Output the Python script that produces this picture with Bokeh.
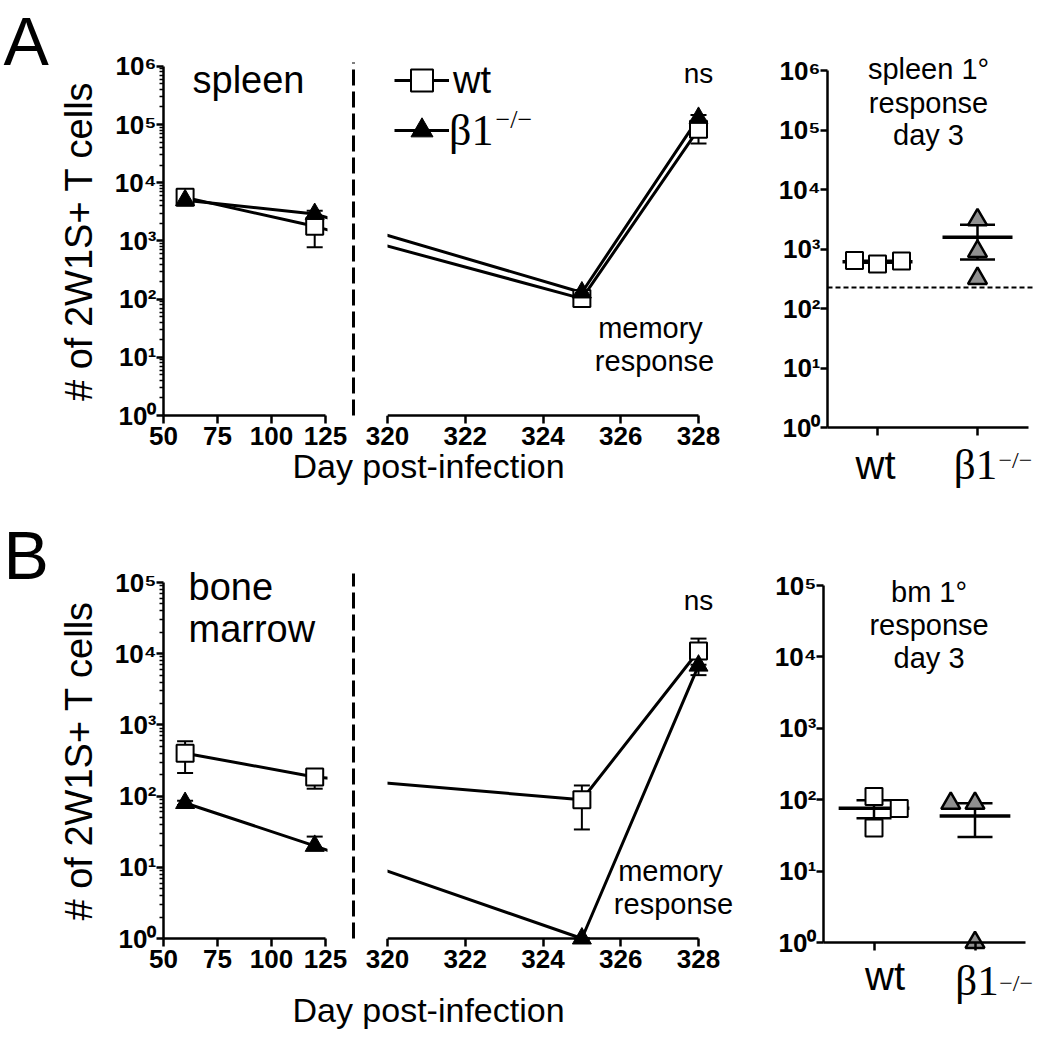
from bokeh.plotting import figure
from bokeh.models import (Range1d, LinearAxis, LogAxis, LogScale, FixedTicker, CustomJSTickFormatter,
                          BoxAnnotation, Label, Legend, LegendItem, Whisker, TeeHead, Arrow,
                          ColumnDataSource)
from bokeh.embed import file_html
from bokeh.resources import INLINE

# ---------------- data ----------------
DAYS = [60, 120, 325, 328]
TICKS_EARLY = [50, 75, 100, 125]
TICKS_LATE = [320, 322, 324, 326, 328]

# A: spleen time course (mean, lower, upper)
SPL_WT = [5600, 1780, 102, 83000]
SPL_WT_LO = [5000, 780, 92, 47000]
SPL_WT_HI = [6200, 2500, 112, 100000]
SPL_B1 = [5000, 2900, 130, 130000]
SPL_B1_LO = [4500, 2500, 118, 115000]
SPL_B1_HI = [5500, 3300, 142, 145000]

# B: bone marrow time course
BM_WT = [400, 186, 89, 10900]
BM_WT_LO = [211, 127, 34, 7000]
BM_WT_HI = [590, 240, 141, 16300]
BM_B1 = [80, 20, 1, 6800]
BM_B1_LO = [75, 18, 1, 5000]
BM_B1_HI = [86, 27, 1, 8500]

# primary response day 3 (individual mice, group mean and SEM)
GROUP_POS = [1, 2]
SPL1_WT = [640, 560, 630]
SPL1_WT_DX = [-0.23, 0.0, 0.24]
SPL1_B1 = [3100, 910, 320]
SPL1_B1_DX = [0.0, 0.0, 0.0]
SPL1_MEAN = [610, 1580]
SPL1_LO = [585, 665]
SPL1_HI = [635, 2560]
SPL1_LOD = 225

BM1_WT = [111, 75, 40]
BM1_WT_DX = [0.0, 0.25, 0.0]
BM1_B1 = [89, 89, 1]
BM1_B1_DX = [-0.24, 0.0, 0.0]
BM1_MEAN = [76, 59]
BM1_LO = [55, 30]
BM1_HI = [98, 89]

SANS = "Liberation Sans"
SERIF = "Liberation Serif"

# ---------------- one canvas, several panel scales ----------------
W, H = 1042, 1040
X0, Y0 = 0, 0


def lin_range(page_x, value, px_per_unit):
    return Range1d(value + (X0 - page_x) / px_per_unit, value + (X0 + W - page_x) / px_per_unit)


def log_range(page_y_of_one, px_per_decade):
    hi = (page_y_of_one - Y0) / px_per_decade
    lo = (page_y_of_one - (Y0 + H)) / px_per_decade
    return Range1d(10 ** lo, 10 ** hi)


# broken x axis: days -> axis units (early block 50..125, late block 320..328)
def brk(d):
    return (d - 50) * 2.16 if d < 200 else 224 + (d - 320) * 38.875


DAYFMT = """
const d = tick < 190 ? 50 + tick / 2.16 : 320 + (tick - 224) / 38.875;
return Math.round(d).toString();
"""
SUPCODE = """
const s = "\u2070\u00b9\u00b2\u00b3\u2074\u2075\u2076\u2077\u2078\u2079";
const e = Math.round(Math.log10(tick));
return "10" + (e < 0 ? "\u207b" : "") + s[Math.abs(e)];
"""

p = figure(width=W, height=H, x_range=lin_range(163, 0, 1), y_range=Range1d(0, 1),
           x_axis_type=None, y_axis_type=None, toolbar_location=None, output_backend="svg",
           min_border_left=0, min_border_right=0, min_border_top=0, min_border_bottom=0)
p.outline_line_color = None
p.grid.visible = False
p.extra_x_ranges = {"ra": lin_range(877, 1, 100), "rb": lin_range(873.5, 1, 101)}
p.extra_y_ranges = {"ya": log_range(415, 58.2), "yb": log_range(938, 71.2),
                    "ra": log_range(427, 59.5), "rb": log_range(942, 71.4)}
p.extra_y_scales = {k: LogScale() for k in ("ya", "yb", "ra", "rb")}


def decade_ticks(n):
    major = [10 ** k for k in range(n + 1)]
    minor = [m * 10 ** k for k in range(n) for m in range(2, 10)]
    return major, minor


def add_yaxis(xname, yname, loc, ndec, minor, label=None):
    major, minor_t = decade_ticks(ndec)
    ax = LogAxis(x_range_name=xname, y_range_name=yname, fixed_location=loc, bounds=(1, 10 ** ndec),
                 ticker=FixedTicker(ticks=major, minor_ticks=minor_t if minor else []),
                 formatter=CustomJSTickFormatter(code=SUPCODE))
    ax.axis_line_width = 2.5
    ax.major_tick_line_width = 2.5
    ax.major_tick_out = 7
    ax.major_tick_in = 0
    ax.minor_tick_line_width = 1.5
    ax.minor_tick_out = 4
    ax.minor_tick_in = 0
    ax.major_label_text_font = SANS
    ax.major_label_text_font_style = "bold"
    ax.major_label_text_font_size = "26px"
    ax.major_label_text_color = "black"
    ax.major_label_standoff = 0
    if label:
        ax.axis_label = label
        ax.axis_label_text_font = SANS
        ax.axis_label_text_font_style = "normal"
        ax.axis_label_text_font_size = "38px"
        ax.axis_label_text_color = "black"
        ax.axis_label_standoff = 12
    p.add_layout(ax, "left")


def add_xaxis(xname, yname, bounds, ticks, fmt):
    ax = LinearAxis(x_range_name=xname, y_range_name=yname, fixed_location=1, bounds=bounds,
                    ticker=FixedTicker(ticks=ticks, minor_ticks=[]),
                    formatter=CustomJSTickFormatter(code=fmt))
    ax.axis_line_width = 2.5
    ax.major_tick_line_width = 2.5
    ax.major_tick_out = 8
    ax.major_tick_in = 0
    ax.major_label_text_font = SANS
    ax.major_label_text_font_style = "bold"
    ax.major_label_text_font_size = "26px"
    ax.major_label_text_color = "black"
    ax.major_label_standoff = 3
    p.add_layout(ax, "below")


def txt(x, y, s, size, xname="default", yname="ya", align="left", font=SANS):
    p.add_layout(Label(x=x, y=y, x_range_name=xname, y_range_name=yname, text=s, text_font=font,
                       text_font_size=size, text_align=align, text_baseline="middle",
                       text_color="black"))


def errbars(xname, yname, x, lo, hi, cap, lw=2):
    src = ColumnDataSource(dict(x=x, lo=lo, hi=hi))
    p.add_layout(Whisker(source=src, base="x", lower="lo", upper="hi", dimension="height",
                         x_range_name=xname, y_range_name=yname, level="underlay",
                         line_width=lw, line_color="black",
                         lower_head=TeeHead(size=cap, line_width=lw, line_color="black"),
                         upper_head=TeeHead(size=cap, line_width=lw, line_color="black")))


def timecourse(yname, ndec, top_log, wt, wt_lo, wt_hi, b1, b1_lo, b1_hi):
    add_yaxis("default", yname, brk(50), ndec, True, "# of 2W1S+ T cells")
    add_xaxis("default", yname, (brk(TICKS_EARLY[0]), brk(TICKS_EARLY[-1])),
              [brk(d) for d in TICKS_EARLY], DAYFMT)
    add_xaxis("default", yname, (brk(TICKS_LATE[0]), brk(TICKS_LATE[-1])),
              [brk(d) for d in TICKS_LATE], DAYFMT)
    u = [brk(d) for d in DAYS]
    errbars("default", yname, u, wt_lo, wt_hi, 16)
    errbars("default", yname, u, b1_lo, b1_hi, 16)
    kw = dict(y_range_name=yname)
    lw = p.line(u, wt, line_color="black", line_width=3, **kw)
    lb = p.line(u, b1, line_color="black", line_width=3, **kw)
    mw = p.scatter(u, wt, marker="square", size=17, fill_color="white", line_color="black",
                   line_width=2, **kw)
    mb = p.scatter(u, b1, marker="triangle", size=19, fill_color="black", line_color="black",
                   line_width=1, **kw)
    # hide the lines inside the axis break and mark the break with a dashed line
    p.add_layout(BoxAnnotation(left=brk(125) + 2, right=brk(320), bottom=1, top=10 ** top_log,
                               y_range_name=yname, fill_color="white", fill_alpha=1, line_color=None))
    p.add_layout(Arrow(x_start=190, x_end=190, y_start=1, y_end=10 ** top_log, end=None,
                       y_range_name=yname, line_color="black", line_width=3, line_dash="16 6"))
    return (lw, mw), (lb, mb)


def primary(name, bounds, ndec, wt, wt_dx, b1, b1_dx, mean, lo, hi, lod=None):
    add_yaxis(name, name, bounds[0], ndec, False)
    add_xaxis(name, name, bounds, GROUP_POS, "return '';")
    kw = dict(x_range_name=name, y_range_name=name)
    if lod is not None:
        p.segment([bounds[0]], [lod], [bounds[1] + 0.05], [lod], line_color="black", line_width=2,
                  line_dash="5 3", **kw)
    errbars(name, name, GROUP_POS, lo, hi, 35, lw=2.5)
    p.segment([g - 0.35 for g in GROUP_POS], mean, [g + 0.35 for g in GROUP_POS], mean,
              line_color="black", line_width=3.5, **kw)
    p.scatter([GROUP_POS[0] + d for d in wt_dx], wt, marker="square", size=17, fill_color="white",
              line_color="black", line_width=2, **kw)
    p.scatter([GROUP_POS[1] + d for d in b1_dx], b1, marker="triangle", size=19, fill_color="#909090",
              line_color="black", line_width=2.5, **kw)


# ---------------- panel A ----------------
a_wt, a_b1 = timecourse("ya", 6, 6.065, SPL_WT, SPL_WT_LO, SPL_WT_HI, SPL_B1, SPL_B1_LO, SPL_B1_HI)
txt(-160, 10 ** 6.443, "A", "68px")
txt(29, 10 ** 5.773, "spleen", "38px")
txt(535, 10 ** 5.876, "ns", "28px", align="center")
txt(487, 10 ** 1.495, "memory", "29px", align="center")
txt(491, 10 ** 0.945, "response", "29px", align="center")
txt(265, 10 ** -0.876, "Day post-infection", "34px", align="center")

leg1 = Legend(items=[LegendItem(label="wt", renderers=list(a_wt))], location=(394, 1040 - 109))
leg2 = Legend(items=[LegendItem(label="β1", renderers=list(a_b1))], location=(394, 1040 - 159))
for lg, font, size, st in ((leg1, SANS, "38px", 4), (leg2, SERIF, "44px", 0)):
    lg.glyph_width = 55
    lg.glyph_height = 58
    lg.padding = 0
    lg.margin = 0
    lg.label_standoff = st
    lg.border_line_color = None
    lg.background_fill_alpha = 0
    lg.label_text_font = font
    lg.label_text_font_size = size
    lg.label_text_color = "black"
    p.add_layout(lg)
txt(332, 10 ** 5.09, "−/−", "26px", font=SERIF)

primary("ra", (0.5, 2.51), 6, SPL1_WT, SPL1_WT_DX, SPL1_B1, SPL1_B1_DX, SPL1_MEAN, SPL1_LO, SPL1_HI,
        lod=SPL1_LOD)
txt(1.51, 10 ** 6.017, "spleen 1°", "29px", "ra", "ra", "center")
txt(1.51, 10 ** 5.462, "response", "29px", "ra", "ra", "center")
txt(1.51, 10 ** 4.908, "day 3", "29px", "ra", "ra", "center")
txt(0.98, 10 ** -0.622, "wt", "40px", "ra", "ra", "center")
txt(1.98, 10 ** -0.614, "β1", "43px", "ra", "ra", "center", SERIF)
txt(2.21, 10 ** -0.538, "−/−", "24px", "ra", "ra", "left", SERIF)

# ---------------- panel B ----------------
timecourse("yb", 5, 5.126, BM_WT, BM_WT_LO, BM_WT_HI, BM_B1, BM_B1_LO, BM_B1_HI)
txt(-160, 10 ** 5.393, "B", "68px", yname="yb")
txt(25, 10 ** 4.93, "bone", "38px", yname="yb")
txt(25, 10 ** 4.34, "marrow", "38px", yname="yb")
txt(535, 10 ** 4.747, "ns", "28px", yname="yb", align="center")
txt(507, 10 ** 0.955, "memory", "29px", yname="yb", align="center")
txt(510, 10 ** 0.478, "response", "29px", yname="yb", align="center")
txt(265, 10 ** -1.011, "Day post-infection", "34px", yname="yb", align="center")

primary("rb", (0.5, 2.5), 5, BM1_WT, BM1_WT_DX, BM1_B1, BM1_B1_DX, BM1_MEAN, BM1_LO, BM1_HI)
txt(1.545, 10 ** 4.902, "bm 1°", "29px", "rb", "rb", "center")
txt(1.545, 10 ** 4.44, "response", "29px", "rb", "rb", "center")
txt(1.545, 10 ** 3.978, "day 3", "29px", "rb", "rb", "center")
txt(1.11, 10 ** -0.476, "wt", "40px", "rb", "rb", "center")
txt(2.02, 10 ** -0.532, "β1", "43px", "rb", "rb", "center", SERIF)
txt(2.24, 10 ** -0.574, "−/−", "24px", "rb", "rb", "left", SERIF)

open("out.html", "w").write(file_html(p, INLINE))
